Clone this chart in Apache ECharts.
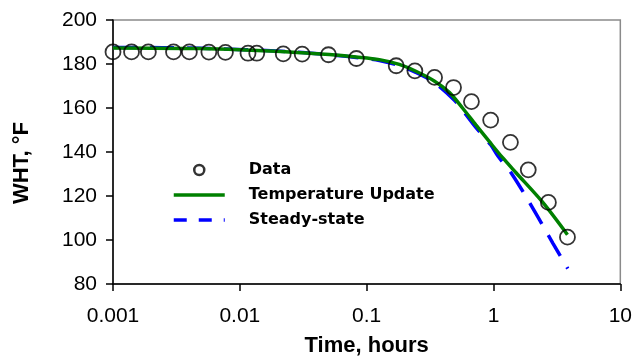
<!DOCTYPE html>
<html>
<head>
<meta charset="utf-8">
<script src="https://cdn.jsdelivr.net/npm/echarts@6/dist/echarts.min.js"></script>
<style>
html,body{margin:0;padding:0;background:#fff;}
#chart{width:635px;height:362px;}
</style>
</head>
<body>
<div id="chart"></div>
<script>
// ---- data ----
const dataTime = [0.001, 0.0014, 0.0019, 0.003, 0.004, 0.0057, 0.0077, 0.0116, 0.0136, 0.022, 0.031,
  0.05, 0.083, 0.171, 0.24, 0.343, 0.484, 0.67, 0.95, 1.36, 1.88, 2.71, 3.83];
const dataWHT = [185.5, 185.5, 185.5, 185.5, 185.5, 185.4, 185.3, 184.9, 184.9, 184.6, 184.5,
  184.2, 182.5, 179.2, 176.9, 173.9, 169.3, 162.9, 154.5, 144.4, 131.9, 117.1, 101.3];

const updTime = [0.001, 0.0048, 0.0246, 0.0508, 0.0826, 0.126, 0.181, 0.242, 0.341, 0.448, 0.57, 0.726, 0.925, 1.18, 1.5, 2.43, 3.83];
const updWHT  = [187.3, 187.0, 185.5, 184.3, 183.2, 182.0, 179.8, 176.8, 172.3, 167.1, 160.0, 152.3, 144.8, 137.4, 130.7, 117.3, 102.4];

const ssTime = [0.001, 0.0048, 0.0246, 0.0508, 0.0826, 0.126, 0.181, 0.242, 0.341, 0.49, 0.607, 0.726, 0.95, 1.08, 1.4, 2.05, 2.95, 3.85];
const ssWHT  = [187.5, 187.2, 185.6, 184.2, 183.0, 181.6, 179.3, 176.3, 171.6, 163.6, 157.0, 151.2, 143.3, 138.3, 129.9, 114.3, 98.4, 87.0];

const xTickLabels = ['0.001', '0.01', '0.1', '1', '10'];
const yTicks = [80, 100, 120, 140, 160, 180, 200];
const seriesNames = ['Data', 'Temperature Update', 'Steady-state'];

const zip = (a, b) => a.map((v, i) => [v, b[i]]);

const chart = echarts.init(document.getElementById('chart'), null, {renderer: 'canvas'});
const axisFont = 'Liberation Sans, Arial, sans-serif';
chart.setOption({
  animation: false,
  backgroundColor: '#fff',
  grid: {left: 113, right: 13, top: 20, bottom: 74, show: true, borderColor: '#8a8a8a', borderWidth: 1.5, backgroundColor: 'transparent'},
  xAxis: {
    type: 'log', logBase: 10, min: 0.001, max: 10,
    name: 'Time, hours', nameLocation: 'middle', nameGap: 51,
    nameTextStyle: {fontFamily: axisFont, fontWeight: 'bold', fontSize: 22, color: '#000'},
    axisLine: {show: true, lineStyle: {color: '#000', width: 1.5}},
    axisTick: {show: true, inside: false, length: 7, lineStyle: {color: '#000', width: 1.5}},
    minorTick: {show: false},
    splitLine: {show: false},
    axisLabel: {
      margin: 22, fontFamily: axisFont, fontSize: 21, color: '#000',
      formatter: v => xTickLabels[Math.round(Math.log10(v)) + 3]
    }
  },
  yAxis: {
    type: 'value', min: yTicks[0], max: yTicks[yTicks.length - 1], interval: 20,
    name: 'WHT, °F', nameLocation: 'middle', nameGap: 80,
    nameTextStyle: {fontFamily: axisFont, fontWeight: 'bold', fontSize: 22, color: '#000', padding: [0, 22, 0, 0]},
    axisLine: {show: true, lineStyle: {color: '#000', width: 1.5}},
    axisTick: {show: true, inside: false, length: 7, lineStyle: {color: '#000', width: 1.5}},
    splitLine: {show: false},
    axisLabel: {margin: 16, fontFamily: axisFont, fontSize: 21, color: '#000'}
  },
  legend: {
    orient: 'vertical', left: 172, top: 162, padding: 0, itemGap: 9,
    itemWidth: 51, itemHeight: 10, selectedMode: false,
    textStyle: {fontFamily: 'DejaVu Sans, sans-serif', fontWeight: 'bold', fontSize: 16, lineHeight: 16, color: '#000', padding: [0, 0, 0, 19]},
    data: [
      {name: seriesNames[0], icon: 'circle', itemStyle: {color: 'rgba(0,0,0,0)', borderColor: '#000', borderWidth: 2.5}},
      {name: seriesNames[1], itemStyle: {opacity: 0}, lineStyle: {width: 3.5, opacity: 1}},
      {name: seriesNames[2], itemStyle: {opacity: 0}, lineStyle: {width: 3.5, opacity: 1, type: [13, 12]}}
    ]
  },
  series: [
    {
      name: seriesNames[2], type: 'line', smooth: 0.3, symbol: 'none', z: 2,
      lineStyle: {color: '#0000ff', width: 3.5, type: [24, 13]},
      itemStyle: {color: '#0000ff'},
      data: zip(ssTime, ssWHT)
    },
    {
      name: seriesNames[1], type: 'line', smooth: 0.3, symbol: 'none', z: 3,
      lineStyle: {color: '#008000', width: 3.5},
      itemStyle: {color: '#008000'},
      data: zip(updTime, updWHT)
    },
    {
      name: seriesNames[0], type: 'scatter', symbol: 'circle', symbolSize: 15, z: 4,
      itemStyle: {color: 'rgba(0,0,0,0)', borderColor: '#000', borderWidth: 1.8},
      data: zip(dataTime, dataWHT)
    }
  ]
});
</script>
</body>
</html>
